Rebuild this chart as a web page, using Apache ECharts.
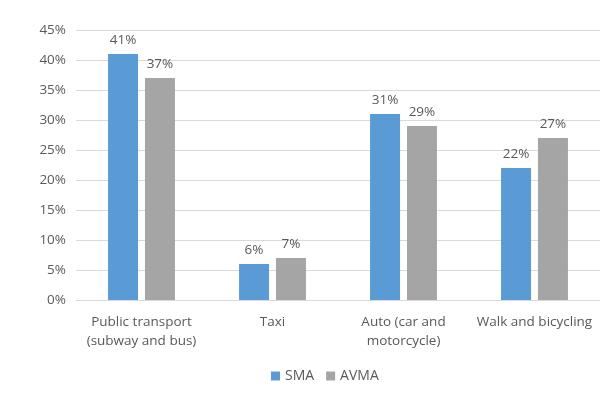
<!DOCTYPE html>
<html><head><meta charset="utf-8">
<script src="https://cdn.jsdelivr.net/npm/echarts@6/dist/echarts.min.js"></script>
<style>html,body{margin:0;padding:0;background:#fff}#c{width:606px;height:415px}</style>
</head><body><div id="c"></div>
<script>
const categories = ['Public transport\n(subway and bus)', 'Taxi', 'Auto (car and\nmotorcycle)', 'Walk and bicycling'];
const smaValues = [41, 6, 31, 22];
const avmaValues = [37, 7, 29, 27];
const yTicks = [0, 5, 10, 15, 20, 25, 30, 35, 40, 45];

const font = 'Open Sans';
const txt = '#595959';
const fs = 13.5;
const chart = echarts.init(document.getElementById('c'), null, {renderer: 'canvas'});
const labelOpt = {show: true, position: 'top', distance: 7, formatter: p => p.value + '%', color: txt, fontSize: fs, fontFamily: font};
chart.setOption({
  animation: false,
  backgroundColor: '#fff',
  grid: {left: 76, right: 6, top: 30, bottom: 115, containLabel: false},
  legend: {top: 364, left: 266, itemWidth: 9, itemHeight: 9, itemGap: 12, icon: 'rect',
    textStyle: {color: txt, fontSize: 14, fontFamily: font}},
  xAxis: {type: 'category', data: categories,
    axisLine: {lineStyle: {color: '#d9d9d9'}}, axisTick: {show: false},
    axisLabel: {color: txt, fontSize: fs, fontFamily: font, margin: 13, lineHeight: 19, interval: 0}},
  yAxis: {type: 'value', min: yTicks[0], max: yTicks[yTicks.length - 1], interval: 5,
    axisLine: {show: false}, axisTick: {show: false},
    splitLine: {lineStyle: {color: '#d9d9d9'}},
    axisLabel: {formatter: v => v + '%', color: txt, fontSize: fs, fontFamily: font, margin: 10}},
  series: [
    {name: 'SMA', type: 'bar', data: smaValues, barWidth: 30, barGap: '23%', itemStyle: {color: '#5B9BD5'}, label: labelOpt},
    {name: 'AVMA', type: 'bar', data: avmaValues, barWidth: 30, itemStyle: {color: '#A5A5A5'}, label: labelOpt}
  ]
});
</script></body></html>
